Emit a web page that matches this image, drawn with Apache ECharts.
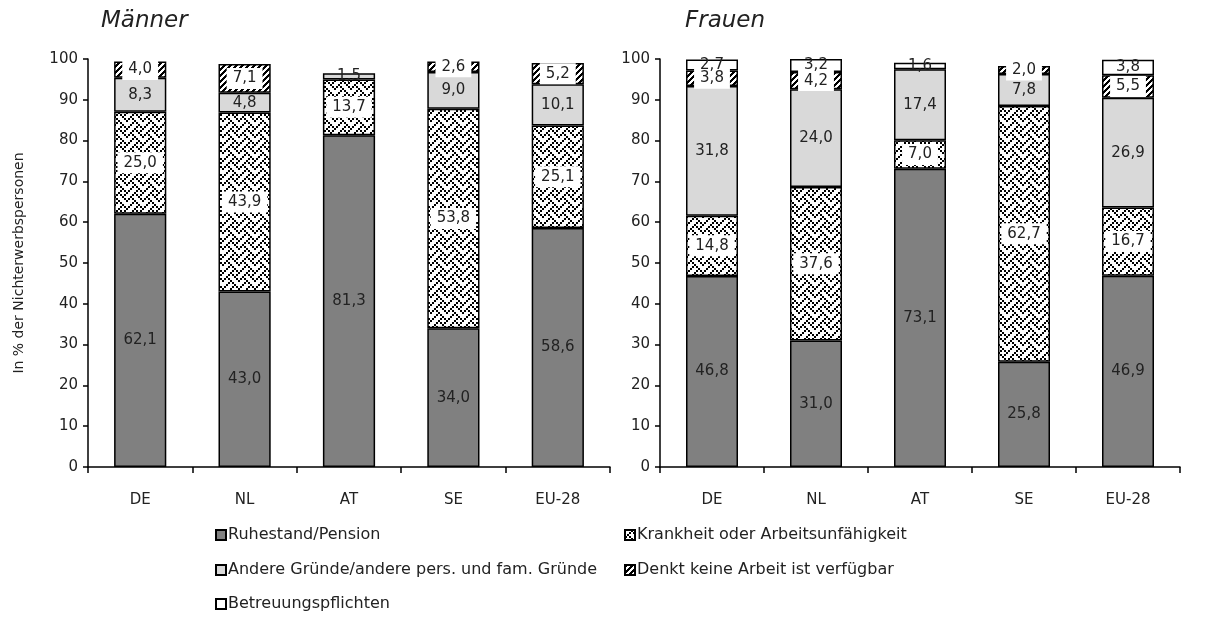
<!DOCTYPE html>
<html><head><meta charset="utf-8">
<script src="https://cdn.jsdelivr.net/npm/echarts@6/dist/echarts.min.js"></script>
<style>html,body{margin:0;padding:0;background:#fff}#c{width:1210px;height:619px}</style>
</head><body><div id="c"></div>
<script>
const categories = ['DE','NL','AT','SE','EU-28'];
const seriesNames = ['Ruhestand/Pension','Krankheit oder Arbeitsunfähigkeit','Andere Gründe/andere pers. und fam. Gründe','Denkt keine Arbeit ist verfügbar','Betreuungspflichten'];
// Männer
const menRuhestand = [62.1, 43.0, 81.3, 34.0, 58.6];
const menKrankheit = [25.0, 43.9, 13.7, 53.8, 25.1];
const menAndere    = [8.3, 4.8, 1.5, 9.0, 10.1];
const menDenkt     = [4.0, 7.1, null, 2.6, 5.2];
const menBetreuung = [null, null, null, null, null];
// Frauen
const womRuhestand = [46.8, 31.0, 73.1, 25.8, 46.9];
const womKrankheit = [14.8, 37.6, 7.0, 62.7, 16.7];
const womAndere    = [31.8, 24.0, 17.4, 7.8, 26.9];
const womDenkt     = [3.8, 4.2, null, 2.0, 5.5];
const womBetreuung = [2.7, 3.2, 1.6, null, 3.8];
const yTicks = [0,10,20,30,40,50,60,70,80,90,100];

const FONT = 'DejaVu Sans';

function makeTile(size, fn){
  const c = document.createElement('canvas');
  c.width = c.height = size;
  const ctx = c.getContext('2d');
  ctx.fillStyle = '#fff'; ctx.fillRect(0,0,size,size);
  ctx.fillStyle = '#000';
  for (let y=0;y<size;y++) for (let x=0;x<size;x++) if (fn(x,y)) ctx.fillRect(x,y,1,1);
  return c;
}
const weaveBits = [0x11,0x2a,0x44,0xa2,0x11,0x28,0x44,0x8a];
const weaveTile = makeTile(16, (x,y)=>{ const bx=Math.floor(x/2), by=Math.floor(y/2); return (weaveBits[by] >> (7-bx)) & 1; });
const diagTile = makeTile(6, (x,y)=> ((x+y)%6) < 3);

const styles = [
  {color:'#808080', bg:false},
  {color:{image:weaveTile, repeat:'repeat'}, bg:true},
  {color:'#d9d9d9', bg:false},
  {color:{image:diagTile, repeat:'repeat'}, bg:true},
  {color:'#ffffff', bg:false}
];
const fmt = p => (p.value == null || p.value === 0) ? '' : p.value.toFixed(1).replace('.', ',');

function mkSeries(dataArrs, idx){
  return dataArrs.map((d,i)=>({
    name: seriesNames[i], type:'bar', stack:'s'+idx, xAxisIndex:idx, yAxisIndex:idx,
    barWidth:'50%', data:d,
    itemStyle:{color:styles[i].color, borderColor:'#000', borderWidth:1.5},
    label:{show:true, position:'inside', formatter:fmt, color:'#222', fontFamily:FONT, fontSize:15,
      backgroundColor: styles[i].bg ? '#fff' : 'transparent', padding: styles[i].bg ? [3,6,3,6] : 0},
    emphasis:{disabled:true}
  }));
}

const series = mkSeries([menRuhestand,menKrankheit,menAndere,menDenkt,menBetreuung],0)
  .concat(mkSeries([womRuhestand,womKrankheit,womAndere,womDenkt,womBetreuung],1));

function yAx(idx, withName){
  return {gridIndex:idx, type:'value', min:0, max:100, interval:10,
    name: withName ? 'In % der Nichterwerbspersonen' : '', nameLocation:'middle', nameGap:62,
    nameTextStyle:{fontFamily:FONT, fontSize:14, color:'#222'},
    axisLine:{show:true, lineStyle:{color:'#000', width:1.5}},
    axisTick:{show:true, length:5, lineStyle:{color:'#000', width:1.5}},
    axisLabel:{fontFamily:FONT, fontSize:15, color:'#222', margin:10,
      formatter: v => yTicks.includes(v) ? String(v) : ''},
    splitLine:{show:false}};
}
function xAx(idx){
  return {gridIndex:idx, type:'category', data:categories,
    axisLine:{lineStyle:{color:'#000', width:1.5}},
    axisTick:{show:true, length:6, lineStyle:{color:'#000', width:1.5}},
    axisLabel:{fontFamily:FONT, fontSize:15, color:'#222', margin:26}};
}
function leg(name, left, top){
  return {data:[name], left:left, top:top, padding:0, itemWidth:10, itemHeight:10, itemGap:0,
    icon:'rect', selectedMode:false,
    textStyle:{fontFamily:FONT, fontSize:16, color:'#222', padding:[0,0,0,-3]}};
}

const chart = echarts.init(document.getElementById('c'), null, {renderer:'canvas'});
chart.setOption({
  animation:false,
  title:[
    {text:'Männer', left:96, top:5, textStyle:{fontFamily:FONT, fontSize:23, fontStyle:'italic', fontWeight:'normal', color:'#222'}},
    {text:'Frauen', left:680, top:5, textStyle:{fontFamily:FONT, fontSize:23, fontStyle:'italic', fontWeight:'normal', color:'#222'}}
  ],
  grid:[
    {left:88, top:59, width:522, height:408},
    {left:660, top:59, width:520, height:408}
  ],
  xAxis:[xAx(0), xAx(1)],
  yAxis:[yAx(0,true), yAx(1,false)],
  legend:[
    leg(seriesNames[0], 215, 527),
    leg(seriesNames[1], 624, 527),
    leg(seriesNames[2], 215, 562),
    leg(seriesNames[3], 624, 562),
    leg(seriesNames[4], 215, 596)
  ],
  series: series
});
</script></body></html>
